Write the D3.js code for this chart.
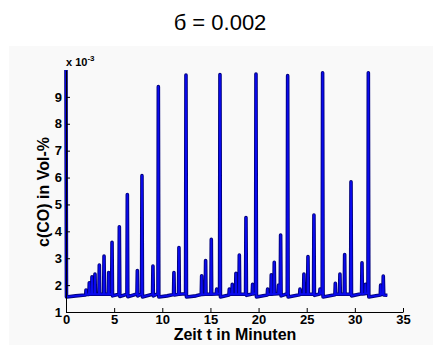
<!DOCTYPE html>
<html>
<head>
<meta charset="utf-8">
<script src="https://cdn.jsdelivr.net/npm/d3@7"></script>
<style>
  body { margin: 0; background: #fff; }
  text { font-family: "Liberation Sans", Arial, sans-serif; }
</style>
</head>
<body>
<div id="chart"></div>
<script>
// time in minutes
const tValues = [
  0, 0.05, 1.0, 2.0,
  2.05, 2.08, 2.12, 2.38, 2.42, 2.46, 2.66, 2.7, 2.74, 2.97, 3.01, 3.05,
  3.42, 3.46, 3.5, 3.91, 3.95, 3.99, 4.39, 4.43, 4.47, 4.74, 4.78, 4.83,
  5.5, 5.54, 5.59, 6.33, 6.37, 6.42, 7.37, 7.41, 7.45, 7.85, 7.89, 7.94,
  8.99, 9.03, 9.07, 9.55, 9.59, 9.64,
  10.5, 11.17, 11.21, 11.25, 11.69, 11.73, 11.77, 12.42, 12.46, 12.51,
  13.5, 14.05, 14.09, 14.13, 14.46, 14.5, 14.54, 15.05, 15.09, 15.13,
  15.61, 15.65, 15.69, 15.95, 15.99, 16.04,
  16.92, 16.96, 17.0, 17.23, 17.27, 17.31, 17.61, 17.65, 17.69,
  17.96, 18.0, 18.04, 18.65, 18.69, 18.74, 19.34, 19.38, 19.42,
  19.69, 19.73, 19.78,
  20.9, 20.94, 20.98, 21.28, 21.32, 21.36, 21.59, 21.63, 21.67,
  22.04, 22.08, 22.12, 22.25, 22.29, 22.34, 22.98, 23.02, 23.07,
  24.26, 24.3, 24.34, 24.67, 24.71, 24.75, 25.09, 25.13, 25.17,
  25.71, 25.75, 25.8, 26.34, 26.38, 26.42, 26.61, 26.65, 26.7,
  27.93, 27.97, 28.01, 28.41, 28.45, 28.49, 28.9, 28.94, 28.98,
  29.56, 29.6, 29.65, 30.7, 30.74, 30.78, 31.05, 31.09, 31.13,
  31.36, 31.4, 31.45,
  32.64, 32.68, 32.72, 32.91, 32.95, 33.0, 33.37
];
// c(CO) in units of 1e-3 Vol-%
const coValues = [
  10.0, 1.56, 1.6, 1.63,
  1.64, 1.82, 1.65, 1.65, 2.09, 1.66, 1.66, 2.31, 1.66, 1.66, 2.41, 1.66,
  1.66, 2.75, 1.66, 1.66, 3.08, 1.66, 1.66, 2.47, 1.66, 1.66, 3.59, 1.6,
  1.66, 4.17, 1.58, 1.66, 5.37, 1.57, 1.67, 2.54, 1.6, 1.67, 6.07, 1.56,
  1.66, 2.71, 1.6, 1.68, 9.38, 1.56,
  1.6, 1.65, 2.47, 1.63, 1.66, 3.40, 1.66, 1.68, 9.81, 1.56,
  1.6, 1.65, 2.35, 1.65, 1.66, 2.91, 1.66, 1.66, 3.70, 1.66,
  1.67, 1.85, 1.67, 1.69, 9.83, 1.56,
  1.63, 1.85, 1.66, 1.66, 2.03, 1.66, 1.66, 2.44, 1.66,
  1.66, 3.12, 1.66, 1.66, 4.51, 1.62, 1.67, 2.03, 1.67,
  1.7, 9.85, 1.56,
  1.63, 1.85, 1.66, 1.66, 2.38, 1.66, 1.67, 2.85, 1.67,
  1.68, 2.0, 1.68, 1.68, 3.86, 1.6, 1.68, 9.79, 1.56,
  1.64, 1.85, 1.66, 1.66, 2.41, 1.66, 1.66, 3.06, 1.66,
  1.66, 4.61, 1.62, 1.67, 1.85, 1.68, 1.69, 9.9, 1.56,
  1.64, 2.07, 1.66, 1.66, 2.41, 1.66, 1.66, 3.14, 1.66,
  1.67, 5.84, 1.6, 1.68, 2.83, 1.67, 1.68, 2.03, 1.69,
  1.7, 9.9, 1.56,
  1.63, 2.0, 1.66, 1.66, 2.34, 1.63, 1.62
];
const xTicks = [0, 5, 10, 15, 20, 25, 30, 35];
const yTicks = [1, 2, 3, 4, 5, 6, 7, 8, 9];

const W = 433, H = 345;
const margin = {top: 70, right: 30, bottom: 33, left: 66};

const svg = d3.select('#chart').append('svg')
  .attr('width', W)
  .attr('height', H);

// figure background
svg.append('rect')
  .attr('x', 9).attr('y', 46)
  .attr('width', W - 9).attr('height', H - 46)
  .attr('fill', '#f9f9f9');

svg.append('text')
  .attr('x', 220).attr('y', 30)
  .attr('text-anchor', 'middle')
  .style('font-size', '22px')
  .text('б = 0.002');

const x = d3.scaleLinear().domain([0, 35]).range([margin.left, W - margin.right]);
const y = d3.scaleLinear().domain([1, 10]).range([H - margin.bottom, margin.top]);

const data = tValues.map((t, i) => ({t: t, c: coValues[i]}));
const line = d3.line().x(d => x(d.t)).y(d => y(d.c));

// dark edge then blue core, like the jpeg'd matlab trace
svg.append('path')
  .datum(data)
  .attr('d', line)
  .attr('fill', 'none')
  .attr('stroke', '#00007a')
  .attr('stroke-width', 3.6)
  .attr('stroke-linejoin', 'round');
svg.append('path')
  .datum(data)
  .attr('d', line)
  .attr('fill', 'none')
  .attr('stroke', '#0a0aee')
  .attr('stroke-width', 1.8)
  .attr('stroke-linejoin', 'round');

const xAxis = d3.axisBottom(x).tickValues(xTicks).tickSizeInner(-4).tickSizeOuter(0).tickPadding(3);
const yAxis = d3.axisLeft(y).tickValues(yTicks).tickSizeInner(-4).tickSizeOuter(0).tickPadding(4);

const gx = svg.append('g')
  .attr('transform', 'translate(0,' + (H - margin.bottom) + ')')
  .call(xAxis);
const gy = svg.append('g')
  .attr('transform', 'translate(' + margin.left + ',0)')
  .call(yAxis);

[gx, gy].forEach(g => {
  g.select('.domain').attr('stroke', '#000').attr('stroke-width', 1);
  g.selectAll('.tick line').attr('stroke', '#000');
  g.selectAll('.tick text')
    .attr('fill', '#000')
    .style('font-size', '13px')
    .style('font-weight', 'bold')
    .style('font-family', '"Liberation Sans", Arial, sans-serif');
});

svg.append('text')
  .attr('x', 66).attr('y', 66)
  .style('font-size', '11px')
  .style('font-weight', 'bold')
  .text('x 10')
  .append('tspan')
  .attr('dy', -5)
  .style('font-size', '8px')
  .text('-3');

svg.append('text')
  .attr('x', 235).attr('y', 340)
  .attr('text-anchor', 'middle')
  .style('font-size', '16px')
  .style('font-weight', 'bold')
  .text('Zeit t in Minuten');

svg.append('text')
  .attr('transform', 'translate(49,192) rotate(-90)')
  .attr('text-anchor', 'middle')
  .style('font-size', '16px')
  .style('font-weight', 'bold')
  .text('c(CO) in Vol-%');
</script>
</body>
</html>
